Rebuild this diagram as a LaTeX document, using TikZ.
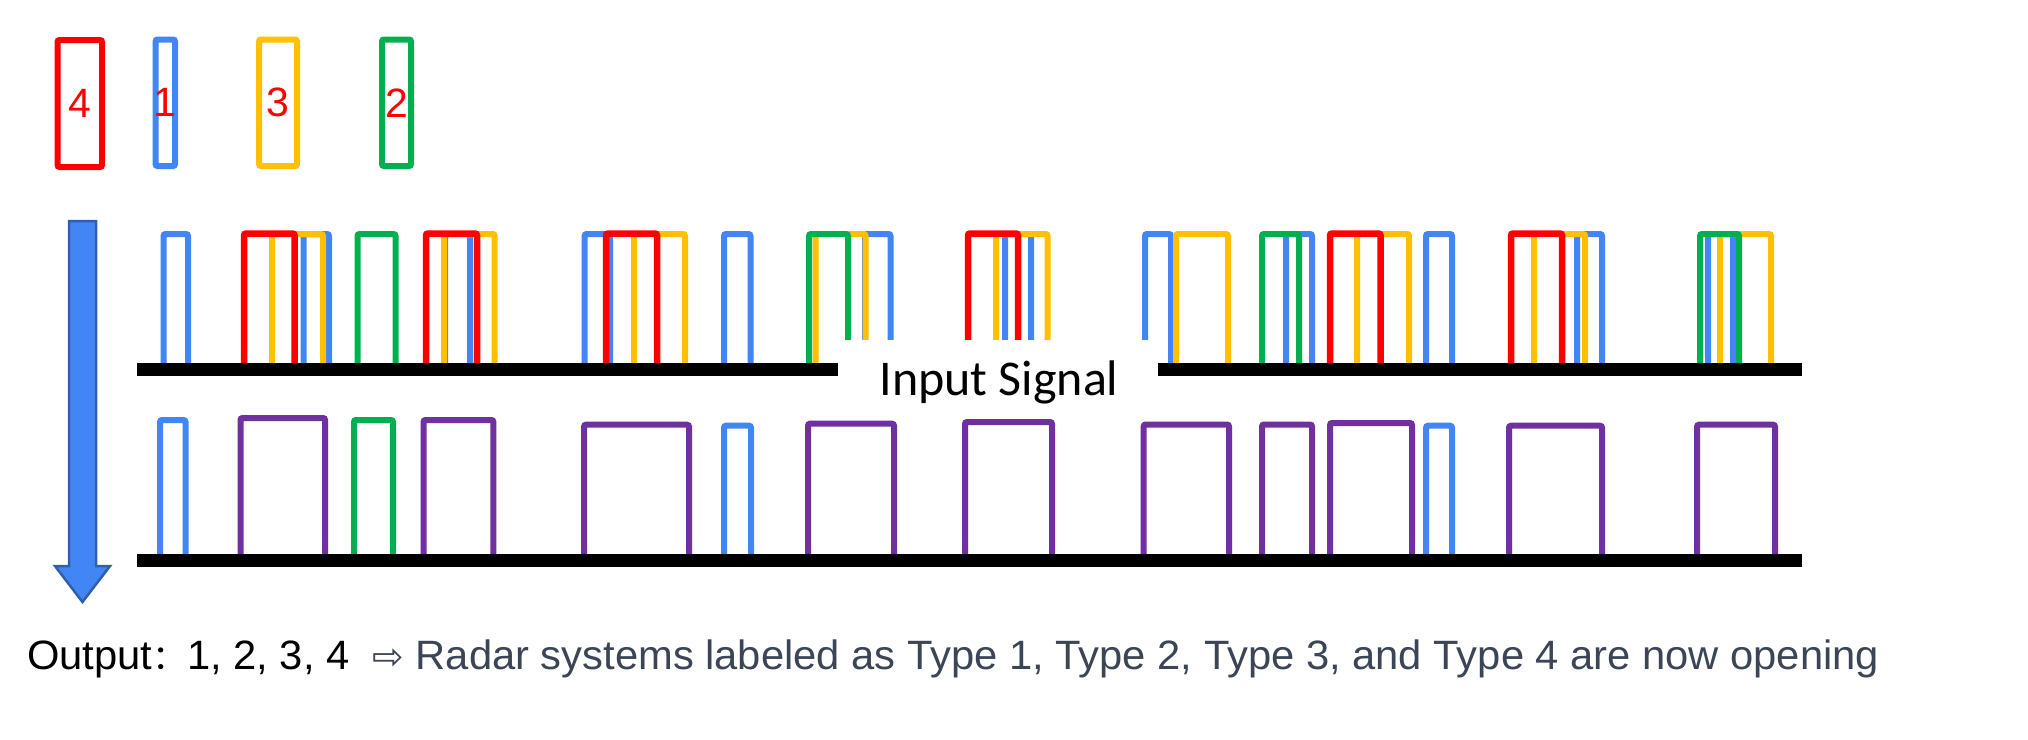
\documentclass[tikz,border=0pt]{standalone}
\usepackage{fontspec}
\usepackage{graphicx}
\setmainfont{Liberation Sans}
\newfontfamily\calfont{Carlito}
\newfontfamily\cjkfont{Noto Sans CJK SC}
\newfontfamily\symfont{DejaVu Sans}
\definecolor{cred}{HTML}{FF0000}
\definecolor{cblue}{HTML}{4285F4}
\definecolor{cyellow}{HTML}{FFC000}
\definecolor{cgreen}{HTML}{00B050}
\definecolor{cpurple}{HTML}{7030A0}
\definecolor{arrowfill}{HTML}{4285F4}
\definecolor{arrowedge}{HTML}{2F5FAF}
\definecolor{slate}{HTML}{3B4556}
\tikzset{
  legendbox/.style={line width=6pt, rounded corners=2pt, inner sep=0pt, text=cred,
    font=\fontsize{41}{48}\selectfont},
  pulse/.style={line width=6pt, rounded corners=2pt},
  baseline/.style={line width=13pt, black},
}
\begin{document}
\begin{tikzpicture}[x=1pt,y=-1pt]
\useasboundingbox (0,0) rectangle (2028,739);
% legend
\node[legendbox, draw=cred, minimum width=44.5pt, minimum height=127pt] (t4) at (79.75,103.5) {\makebox[0pt]{4}};
\node[legendbox, draw=cblue, minimum width=19.5pt, minimum height=126.5pt] (t1) at (165.25,102.75) {\makebox[0pt]{1}};
\node[legendbox, draw=cyellow, minimum width=38pt, minimum height=126.5pt] (t3) at (278,102.75) {\makebox[0pt]{3}};
\node[legendbox, draw=cgreen, minimum width=29pt, minimum height=126.5pt] (t2) at (396.5,102.75) {\makebox[0pt]{2}};
% big arrow
\draw[fill=arrowfill, draw=arrowedge, line width=2.5pt, line join=miter]
  (69,221) -- (96,221) -- (96,566) -- (110,566) -- (82.5,602) -- (55,566) -- (69,566) -- cycle;
% top row pulses
\foreach \a/\b in {163.5/188, 303.5/329, 445/470, 584.6/610, 724/750.5, 865/890.5, 1005/1031, 1145/1171, 1286/1312, 1426/1452, 1577/1602, 1708/1733}
  \draw[pulse, cblue] (\a,369) -- (\a,234) -- (\b,234) -- (\b,369);
\foreach \a/\b in {272/323, 444/494.6, 634/685, 815.5/865.5, 996/1047.6, 1176/1228, 1357/1409, 1534/1585, 1720/1771}
  \draw[pulse, cyellow] (\a,369) -- (\a,234) -- (\b,234) -- (\b,369);
\foreach \a/\b in {357.5/395.5, 809/848, 1262/1299, 1700/1739}
  \draw[pulse, cgreen] (\a,369) -- (\a,234) -- (\b,234) -- (\b,369);
\foreach \a/\b in {244/294.5, 426/477, 606/657, 968/1018, 1330/1380.5, 1511/1562}
  \draw[pulse, cred, line width=6.5pt] (\a,369) -- (\a,233.5) -- (\b,233.5) -- (\b,369);
% input signal label
\node[fill=white, inner sep=0pt, anchor=base, text height=55pt, text depth=20pt,
  minimum width=320pt, font=\calfont\fontsize{50}{60}\selectfont] (sig) at (999,395) {Input Signal};
\coordinate (l1a) at (137,369);
\coordinate (l1b) at (838,369);
\coordinate (l2a) at (1158,369);
\coordinate (l2b) at (1801.5,369);
\draw[baseline] (l1a) -- (l1b);
\draw[baseline] (l2a) -- (l2b);
% bottom row
\foreach \a/\b/\t in {160/185.5/420, 724/751/425.7, 1426/1452/425.7}
  \draw[pulse, cblue] (\a,557) rectangle (\b,\t);
\foreach \a/\b/\t in {354/393/420}
  \draw[pulse, cgreen] (\a,557) rectangle (\b,\t);
\foreach \a/\b/\t in {240.5/325/418, 423.5/493.4/420, 584/689/424.7, 808/894/423.7, 965/1052/422, 1143.6/1229/424.5, 1262/1312/424.5, 1330/1412/423, 1509/1602/425.7, 1697/1775/424.7}
  \draw[pulse, cpurple] (\a,557) rectangle (\b,\t);
\coordinate (l3a) at (137,560);
\coordinate (l3b) at (1801.5,560);
\draw[baseline] (l3a) -- (l3b);
% output text
\node[anchor=base west, inner sep=0pt, font=\fontsize{41}{48}\selectfont] (out) at (27,669)
  {\resizebox{1852pt}{\height}{Output{\cjkfont\fontsize{34}{40}\selectfont ：}1, 2, 3, 4\ \ {\color{slate}{\symfont\fontsize{37}{40}\selectfont ⇨} Radar systems labeled as Type 1, Type 2, Type 3, and Type 4 are now opening}}};
\end{tikzpicture}
\end{document}
